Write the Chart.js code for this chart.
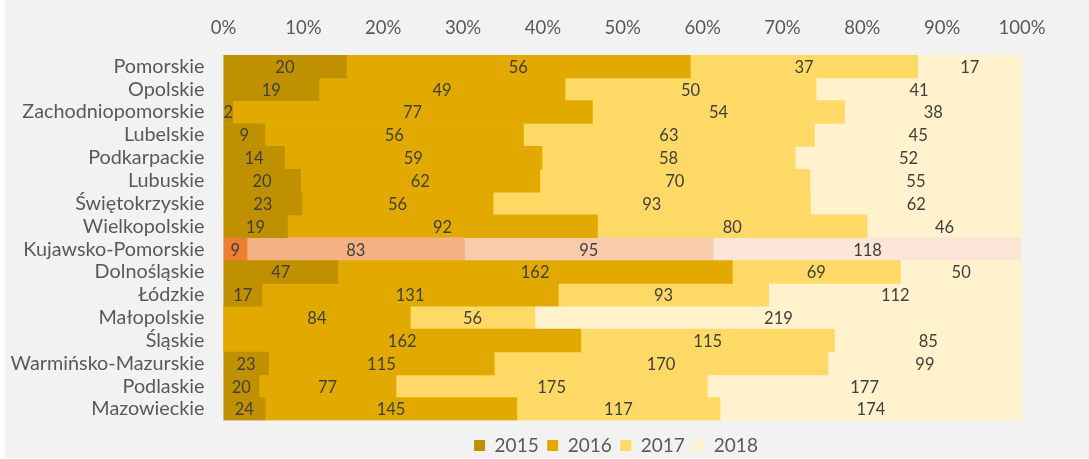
<!DOCTYPE html>
<html>
<head>
<meta charset="utf-8">
<script src="https://cdn.jsdelivr.net/npm/chart.js@4"></script>
<style>
  html, body { margin: 0; padding: 0; background: #ffffff; }
  #wrap { position: absolute; left: 5px; top: 0; width: 1084px; height: 458px; background: #f2f2f2; }
</style>
</head>
<body>
<div id="wrap"><canvas id="c"></canvas></div>
<script>
// ---- data ----
const categories = ['Pomorskie','Opolskie','Zachodniopomorskie','Lubelskie','Podkarpackie','Lubuskie','Świętokrzyskie','Wielkopolskie','Kujawsko-Pomorskie','Dolnośląskie','Łódzkie','Małopolskie','Śląskie','Warmińsko-Mazurskie','Podlaskie','Mazowieckie'];
const seriesNames = ['2015','2016','2017','2018'];
const values2015 = [20,19,2,9,14,20,23,19,9,47,17,0,0,23,20,24];
const values2016 = [56,49,77,56,59,62,56,92,83,162,131,84,162,115,77,145];
const values2017 = [37,50,54,63,58,70,93,80,95,69,93,56,115,170,175,117];
const values2018 = [17,41,38,45,52,55,62,46,118,50,112,219,85,99,177,174];
const tickValues = [0,10,20,30,40,50,60,70,80,90,100];
const highlighted = 'Kujawsko-Pomorskie';

// ---- styles ----
const FONT = 'Lato';
const baseColors = ['#bf9000','#e2aa00','#ffd966','#fff2cc'];
const hiColors = ['#ed7d31','#f4b183','#f8cbad','#fbe5d6'];

const raw = [values2015, values2016, values2017, values2018];
const totals = categories.map((_, i) => raw.reduce((s, arr) => s + arr[i], 0));

const datasets = raw.map((arr, k) => ({
  label: seriesNames[k],
  data: arr.map((v, i) => v / totals[i] * 100),
  rawValues: arr,
  backgroundColor: categories.map(c => c === highlighted ? hiColors[k] : baseColors[k]),
  borderWidth: 0,
  barPercentage: 1,
  categoryPercentage: 1
}));

const dataLabels = {
  id: 'dataLabels',
  afterDatasetsDraw(chart) {
    const ctx = chart.ctx;
    ctx.save();
    ctx.font = '16.5px ' + FONT;
    ctx.fillStyle = '#404040';
    ctx.textAlign = 'center';
    ctx.textBaseline = 'middle';
    chart.data.datasets.forEach((ds, di) => {
      const meta = chart.getDatasetMeta(di);
      meta.data.forEach((el, i) => {
        const v = ds.rawValues[i];
        if (!v) return;
        ctx.fillText(String(v), (el.x + el.base) / 2, el.y + 1);
      });
    });
    ctx.restore();
  }
};

const legendShift = {
  id: 'legendShift',
  afterLayout(chart) {
    const lg = chart.legend;
    if (!lg) return;
    const dx = 611 - (lg.left + lg.right) / 2;
    lg.left += dx; lg.right += dx;
    lg.top += 7; lg.bottom += 7;
  }
};

new Chart(document.getElementById('c'), {
  type: 'bar',
  data: { labels: categories, datasets },
  plugins: [dataLabels, legendShift],
  options: {
    indexAxis: 'y',
    responsive: true,
    maintainAspectRatio: false,
    animation: false,
    layout: { padding: { left: 0, right: 67, top: 0, bottom: 0 } },
    scales: {
      x: {
        position: 'top',
        stacked: true,
        min: 0, max: 100,
        afterBuildTicks(scale) { scale.ticks = tickValues.map(v => ({ value: v })); },
        ticks: {
          callback: v => v + '%',
          color: '#595959',
          font: { family: FONT, size: 18.5 },
          padding: 16,
          maxRotation: 0
        },
        grid: { display: false, drawTicks: false },
        border: { display: false },
        afterFit(scale) { scale.height = 55; }
      },
      y: {
        stacked: true,
        ticks: {
          color: '#595959',
          font: { family: FONT, size: 19.8 },
          padding: 19,
          autoSkip: false
        },
        grid: { display: false, drawTicks: false },
        border: { display: true, color: '#d9d9d9', width: 1 },
        afterFit(scale) { scale.width = 218.5; }
      }
    },
    plugins: {
      tooltip: { enabled: false },
      legend: {
        position: 'bottom',
        labels: {
          color: '#595959',
          font: { family: FONT, size: 19 },
          boxWidth: 11,
          boxHeight: 11,
          padding: 8.5,
          generateLabels(chart) {
            return chart.data.datasets.map((ds, i) => ({
              text: ds.label,
              fillStyle: baseColors[i],
              strokeStyle: baseColors[i],
              lineWidth: 0,
              fontColor: '#595959',
              hidden: false,
              datasetIndex: i
            }));
          }
        }
      }
    }
  }
});
</script>
</body>
</html>
